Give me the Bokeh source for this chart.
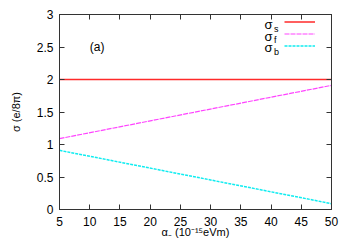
from bokeh.plotting import figure
from bokeh.models import (Range1d, FixedTicker, LinearAxis, Label, Legend, LegendItem)
from bokeh.embed import file_html
from bokeh.resources import INLINE

# data
alpha = [5, 50]
sigma_s = [2.0, 2.0]
sigma_f = [1.09, 1.91]
sigma_b = [0.91, 0.09]
x_ticks = [5, 10, 15, 20, 25, 30, 35, 40, 45, 50]
y_ticks = [0, 0.5, 1, 1.5, 2, 2.5, 3]
y_tick_labels = ["0", "0.5", "1", "1.5", "2", "2.5", "3"]
series_names = ["s", "f", "b"]

FONT = "Liberation Sans"

p = figure(frame_width=272, frame_height=195, output_backend="svg", toolbar_location=None,
           x_range=Range1d(5, 50), y_range=Range1d(0, 3),
           min_border_left=59, min_border_right=10, min_border_top=14, min_border_bottom=26)
p.background_fill_color = "white"
p.border_fill_color = "white"
p.outline_line_color = "#333333"
p.outline_line_width = 1
p.grid.visible = False

xa = p.xaxis[0]
ya = p.yaxis[0]
xa.ticker = FixedTicker(ticks=x_ticks)
ya.ticker = FixedTicker(ticks=y_ticks)
ya.major_label_overrides = {t: l for t, l in zip(y_ticks, y_tick_labels)}
for ax in (xa, ya):
    ax.major_tick_in = 5
    ax.major_tick_out = 0
    ax.minor_tick_line_color = None
    ax.major_tick_line_color = "#333333"
    ax.axis_line_color = "#333333"
    ax.major_label_text_font = FONT
    ax.major_label_text_font_size = "12px"
    ax.major_label_text_color = "black"
    ax.axis_label_text_font = FONT
    ax.axis_label_text_font_size = "11px"
    ax.axis_label_text_font_style = "normal"
    ax.axis_label_text_color = "black"
xa.major_label_standoff = 7
ya.major_label_standoff = 6
xa.axis_label = "α₋ (10⁻¹⁵eVm)"
ya.axis_label = "σ (e/8π)"
xa.axis_label_standoff = -3
ya.axis_label_standoff = 12

# mirror axes (ticks only)
for loc, ticks in (("above", x_ticks), ("right", y_ticks)):
    ax = LinearAxis(ticker=FixedTicker(ticks=ticks))
    ax.major_tick_in = 5
    ax.major_tick_out = 0
    ax.minor_tick_line_color = None
    ax.major_tick_line_color = "#333333"
    ax.axis_line_color = "#333333"
    ax.major_label_text_color = None
    ax.major_label_text_font_size = "1px"
    ax.major_label_standoff = 0
    p.add_layout(ax, loc)

r_s = p.line(alpha, sigma_s, line_color="#ff2a2a", line_width=1.5)
r_f = p.line(alpha, sigma_f, line_color="#ff44ff", line_width=1.2, line_dash="5 1")
r_b = p.line(alpha, sigma_b, line_color="#10ecf0", line_width=1.5, line_dash="3 1")

legend = Legend(items=[LegendItem(label=" ", renderers=[r]) for r in (r_s, r_f, r_b)],
                location=(225, 158), padding=0, margin=0, spacing=1,
                glyph_width=31, glyph_height=11, label_height=11, label_width=0,
                label_standoff=0, label_text_font_size="8px",
                border_line_color=None, background_fill_alpha=0)
p.add_layout(legend, "center")

# legend texts
row_y = [2.84, 2.665, 2.49]
for name, yv in zip(series_names, row_y):
    p.add_layout(Label(x=38.9, y=yv, text="σ", text_font=FONT, text_font_size="13px",
                       text_baseline="middle", text_align="left", text_color="black"))
    p.add_layout(Label(x=40.5, y=yv - 0.06, text=name, text_font=FONT, text_font_size="9px",
                       text_baseline="middle", text_align="left", text_color="black"))

p.add_layout(Label(x=10, y=2.5, text="(a)", text_font=FONT, text_font_size="12px",
                   text_baseline="middle", text_align="left", text_color="black"))

open("out.html", "w").write(file_html(p, INLINE))
